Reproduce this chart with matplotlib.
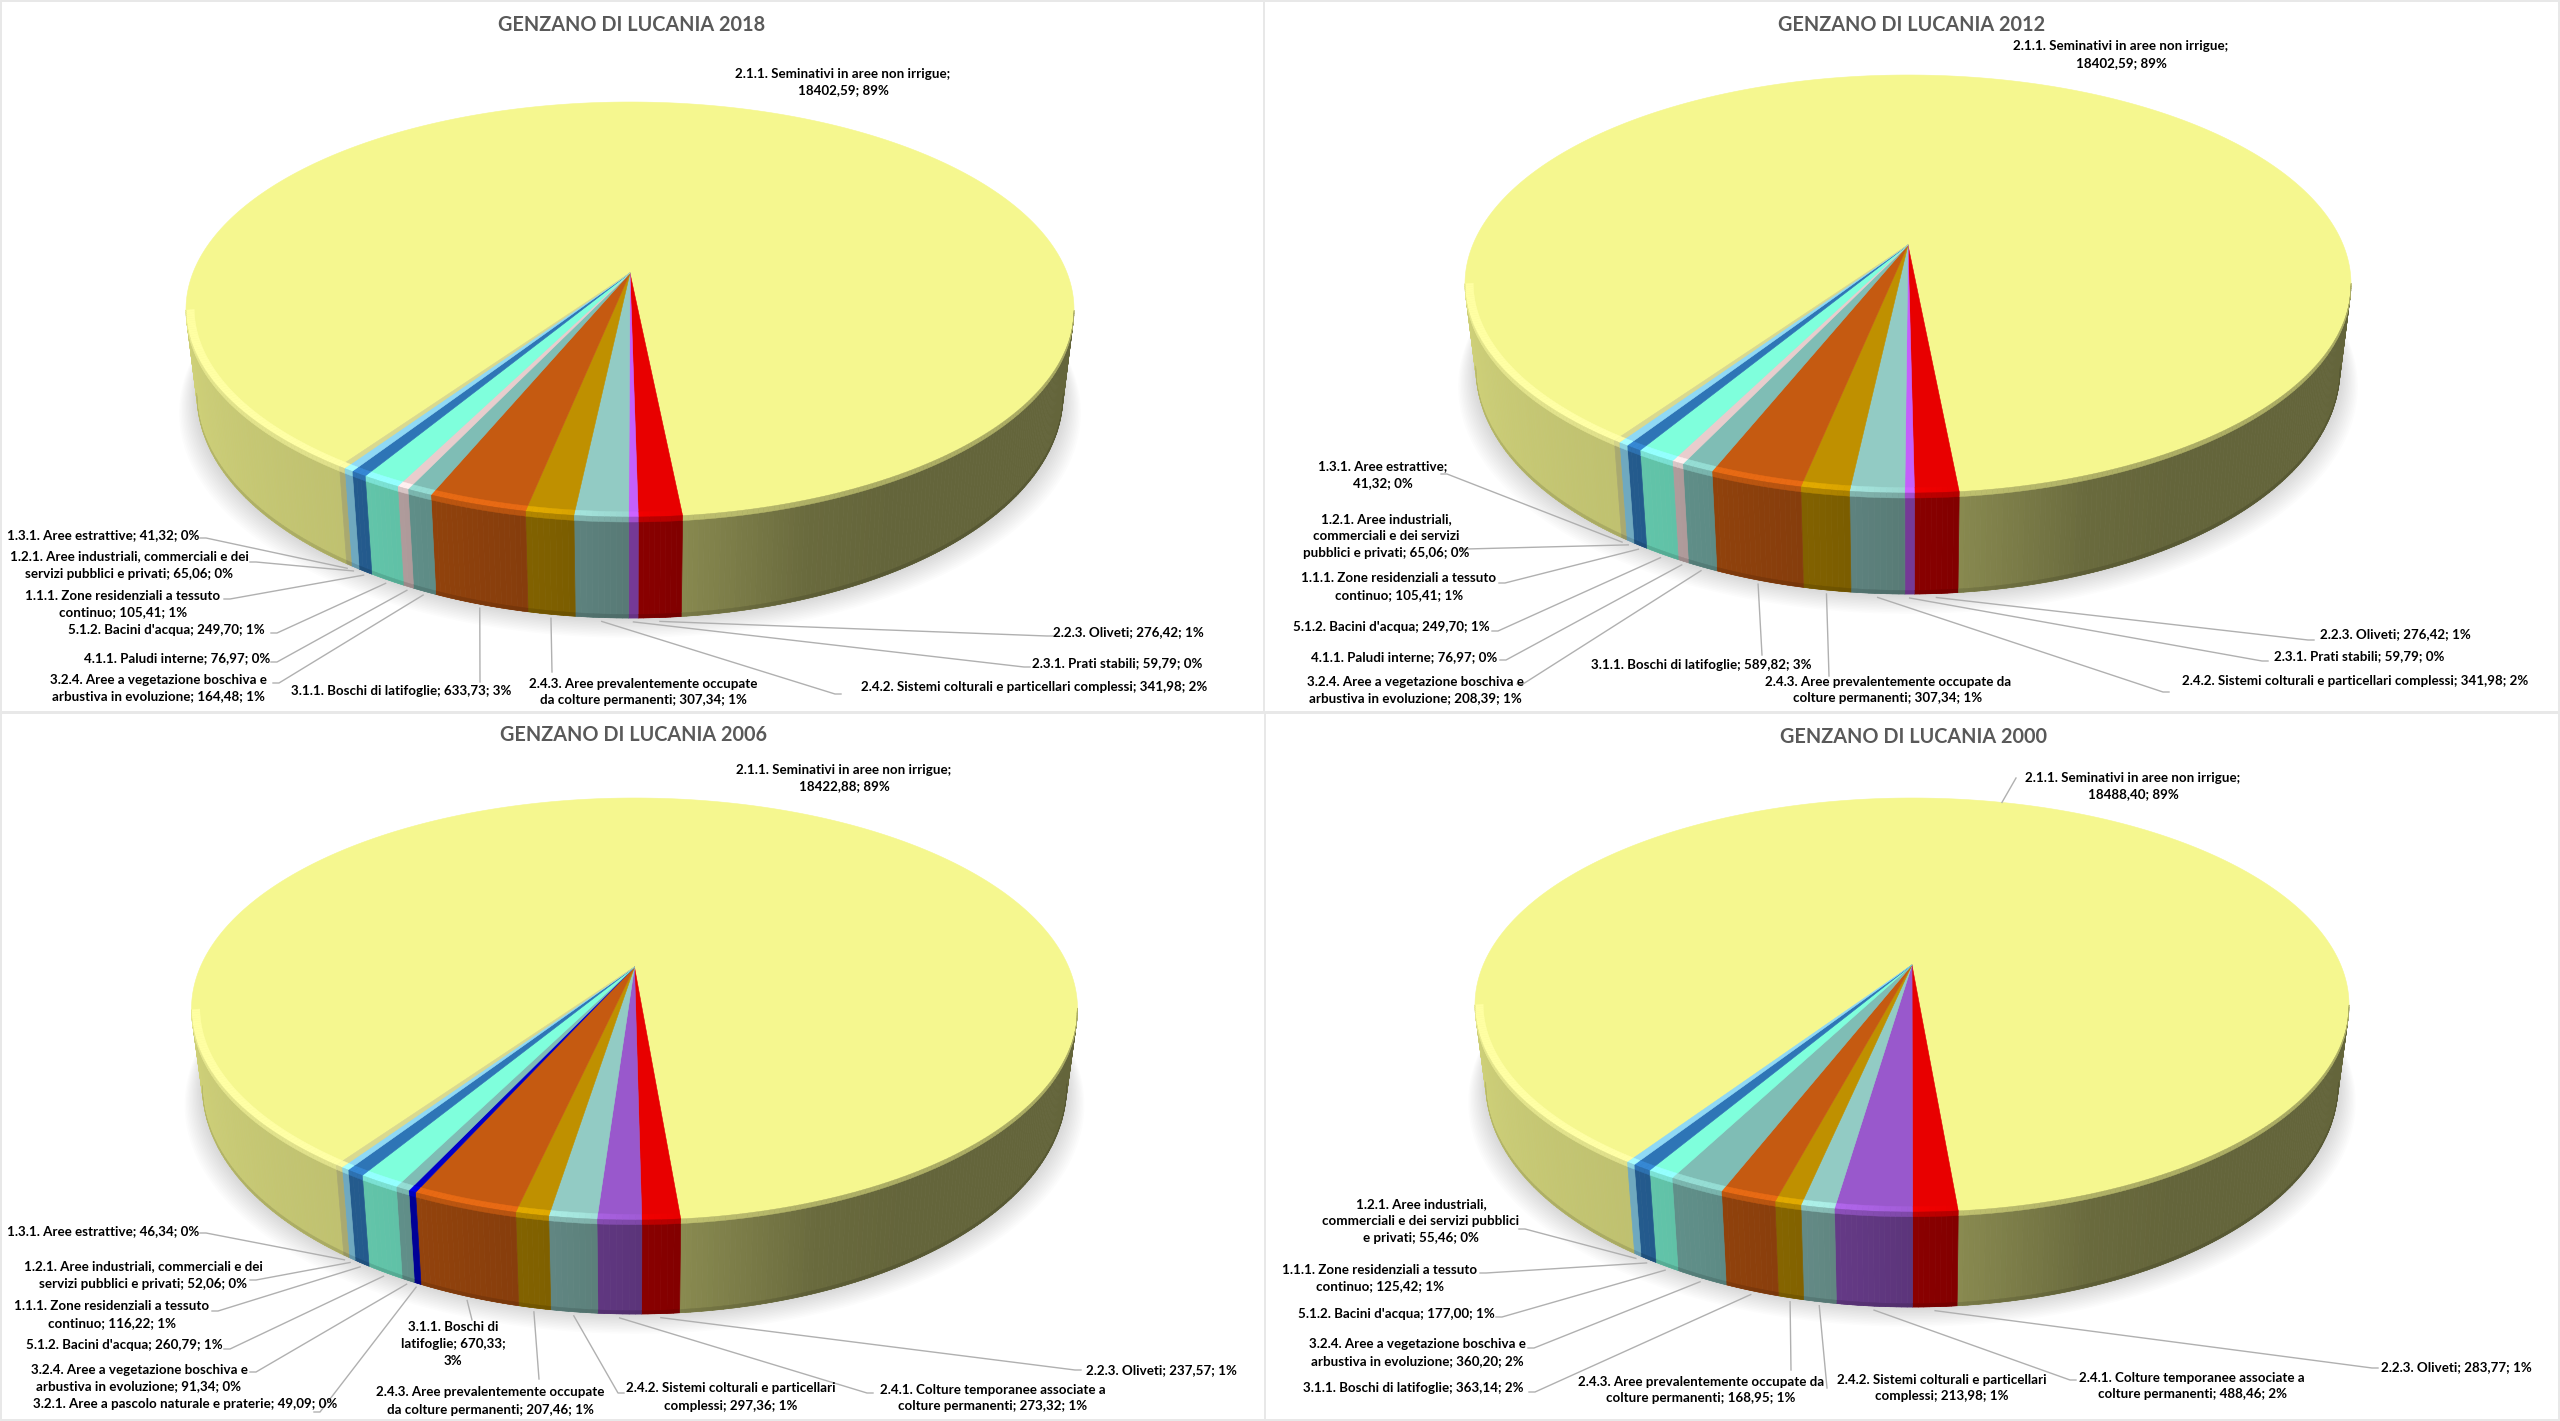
import numpy as np
import matplotlib
matplotlib.use("Agg")
import matplotlib.pyplot as plt
from matplotlib.collections import PolyCollection
from matplotlib.colors import to_rgb
from matplotlib.patches import Rectangle

plt.rcParams['font.family'] = ['Lato', 'DejaVu Sans']

# ---------- data (Excel order: clockwise from the first slice) ----------
titles = ["GENZANO DI LUCANIA 2018", "GENZANO DI LUCANIA 2012",
          "GENZANO DI LUCANIA 2006", "GENZANO DI LUCANIA 2000"]

codes_2018 = ["2.1.1", "2.2.3", "2.3.1", "2.4.2", "2.4.3", "3.1.1", "3.2.4", "4.1.1", "5.1.2", "1.1.1", "1.2.1", "1.3.1"]
values_2018 = [18402.59, 276.42, 59.79, 341.98, 307.34, 633.73, 164.48, 76.97, 249.70, 105.41, 65.06, 41.32]
text_2018 = ["2.1.1. Seminativi in aree non irrigue;\n18402,59; 89%", "2.2.3. Oliveti; 276,42; 1%",
             "2.3.1. Prati stabili; 59,79; 0%", "2.4.2. Sistemi colturali e particellari complessi; 341,98; 2%",
             "2.4.3. Aree prevalentemente occupate\nda colture permanenti; 307,34; 1%", "3.1.1. Boschi di latifoglie; 633,73; 3%",
             "3.2.4. Aree a vegetazione boschiva e\narbustiva in evoluzione; 164,48; 1%", "4.1.1. Paludi interne; 76,97; 0%",
             "5.1.2. Bacini d'acqua; 249,70; 1%", "1.1.1. Zone residenziali a tessuto\ncontinuo; 105,41; 1%",
             "1.2.1. Aree industriali, commerciali e dei\nservizi pubblici e privati; 65,06; 0%", "1.3.1. Aree estrattive; 41,32; 0%"]

codes_2012 = codes_2018
values_2012 = [18402.59, 276.42, 59.79, 341.98, 307.34, 589.82, 208.39, 76.97, 249.70, 105.41, 65.06, 41.32]
text_2012 = ["2.1.1. Seminativi in aree non irrigue;\n18402,59; 89%", "2.2.3. Oliveti; 276,42; 1%",
             "2.3.1. Prati stabili; 59,79; 0%", "2.4.2. Sistemi colturali e particellari complessi; 341,98; 2%",
             "2.4.3. Aree prevalentemente occupate da\ncolture permanenti; 307,34; 1%", "3.1.1. Boschi di latifoglie; 589,82; 3%",
             "3.2.4. Aree a vegetazione boschiva e\narbustiva in evoluzione; 208,39; 1%", "4.1.1. Paludi interne; 76,97; 0%",
             "5.1.2. Bacini d'acqua; 249,70; 1%", "1.1.1. Zone residenziali a tessuto\ncontinuo; 105,41; 1%",
             "1.2.1. Aree industriali,\ncommerciali e dei servizi\npubblici e privati; 65,06; 0%", "1.3.1. Aree estrattive;\n41,32; 0%"]

codes_2006 = ["2.1.1", "2.2.3", "2.4.1", "2.4.2", "2.4.3", "3.1.1", "3.2.1", "3.2.4", "5.1.2", "1.1.1", "1.2.1", "1.3.1"]
values_2006 = [18422.88, 237.57, 273.32, 297.36, 207.46, 670.33, 49.09, 91.34, 260.79, 116.22, 52.06, 46.34]
text_2006 = ["2.1.1. Seminativi in aree non irrigue;\n18422,88; 89%", "2.2.3. Oliveti; 237,57; 1%",
             "2.4.1. Colture temporanee associate a\ncolture permanenti; 273,32; 1%", "2.4.2. Sistemi colturali e particellari\ncomplessi; 297,36; 1%",
             "2.4.3. Aree prevalentemente occupate\nda colture permanenti; 207,46; 1%", "3.1.1. Boschi di\nlatifoglie; 670,33;\n3%",
             "3.2.1. Aree a pascolo naturale e praterie; 49,09; 0%", "3.2.4. Aree a vegetazione boschiva e\narbustiva in evoluzione; 91,34; 0%",
             "5.1.2. Bacini d'acqua; 260,79; 1%", "1.1.1. Zone residenziali a tessuto\ncontinuo; 116,22; 1%",
             "1.2.1. Aree industriali, commerciali e dei\nservizi pubblici e privati; 52,06; 0%", "1.3.1. Aree estrattive; 46,34; 0%"]

codes_2000 = ["2.1.1", "2.2.3", "2.4.1", "2.4.2", "2.4.3", "3.1.1", "3.2.4", "5.1.2", "1.1.1", "1.2.1"]
values_2000 = [18488.40, 283.77, 488.46, 213.98, 168.95, 363.14, 360.20, 177.00, 125.42, 55.46]
text_2000 = ["2.1.1. Seminativi in aree non irrigue;\n18488,40; 89%", "2.2.3. Oliveti; 283,77; 1%",
             "2.4.1. Colture temporanee associate a\ncolture permanenti; 488,46; 2%", "2.4.2. Sistemi colturali e particellari\ncomplessi; 213,98; 1%",
             "2.4.3. Aree prevalentemente occupate da\ncolture permanenti; 168,95; 1%", "3.1.1. Boschi di latifoglie; 363,14; 2%",
             "3.2.4. Aree a vegetazione boschiva e\narbustiva in evoluzione; 360,20; 2%", "5.1.2. Bacini d'acqua; 177,00; 1%",
             "1.1.1. Zone residenziali a tessuto\ncontinuo; 125,42; 1%", "1.2.1. Aree industriali,\ncommerciali e dei servizi pubblici\ne privati; 55,46; 0%"]

# ---------- styles ----------
colors = {"2.1.1": "#F5F78F", "2.2.3": "#E80000", "2.3.1": "#C45FFB", "2.4.1": "#9958CC", "2.4.2": "#92CBC4",
          "2.4.3": "#BF9000", "3.1.1": "#C55A11", "3.2.1": "#0000C8", "3.2.4": "#7FBDB5", "4.1.1": "#E8CDCD",
          "5.1.2": "#7FFFDC", "1.1.1": "#2E75B6", "1.2.1": "#8FD9F5", "1.3.1": "#D9D98F"}

# ---------- layout in image pixels ----------
panels = [(1, 1, 1264, 712), (1264, 1, 2559, 712), (1, 712.5, 1265, 1420), (1265, 712.5, 2559, 1420)]
# cx, apex y, back extent, front extent, half width, wall height, first-slice offset (deg right of front)
geometry = [(630, 273, 171, 244, 444, 101, 5.7), (1908, 245, 170, 248, 443, 101, 5.5),
            (634.5, 967, 169, 253, 443, 94, 4.9), (1912, 965, 167, 247, 437, 95, 5.0)]
title_pos = [(632, 25), (1912, 25), (633, 735), (1914, 737)]

label_xy = [
    {"2.1.1": (843, 82), "2.2.3": (1128, 632), "2.3.1": (1117, 663), "2.4.2": (1034, 687), "2.4.3": (643, 692),
     "3.1.1": (401, 691), "3.2.4": (158, 688), "4.1.1": (177, 658), "5.1.2": (166, 630), "1.1.1": (123, 604),
     "1.2.1": (129, 565), "1.3.1": (103, 535)},
    {"2.1.1": (2121, 55), "2.2.3": (2395, 634), "2.3.1": (2359, 656), "2.4.2": (2355, 681), "2.4.3": (1888, 690),
     "3.1.1": (1701, 665), "3.2.4": (1415, 690), "4.1.1": (1404, 657), "5.1.2": (1391, 627), "1.1.1": (1399, 587),
     "1.2.1": (1386, 536), "1.3.1": (1383, 475)},
    {"2.1.1": (844, 778), "2.2.3": (1161, 1370), "2.4.1": (993, 1398), "2.4.2": (731, 1397), "2.4.3": (490, 1401),
     "3.1.1": (453, 1344), "3.2.1": (185, 1404), "3.2.4": (139, 1378), "5.1.2": (124, 1345), "1.1.1": (112, 1315),
     "1.2.1": (143, 1275), "1.3.1": (103, 1231)},
    {"2.1.1": (2133, 786), "2.2.3": (2456, 1367), "2.4.1": (2192, 1386), "2.4.2": (1942, 1388), "2.4.3": (1701, 1390),
     "3.1.1": (1413, 1388), "3.2.4": (1417, 1353), "5.1.2": (1396, 1314), "1.1.1": (1380, 1278), "1.2.1": (1421, 1221)},
]
leader_xy = [
    {"2.2.3": (1053, 636), "2.3.1": (1030, 667), "2.4.2": (841, 694), "2.4.3": (552, 672), "3.1.1": (480, 682),
     "3.2.4": (273, 683), "4.1.1": (271, 662), "5.1.2": (271, 633), "1.1.1": (224, 599), "1.2.1": (250, 562), "1.3.1": (200, 538)},
    {"2.2.3": (2314, 640), "2.3.1": (2268, 661), "2.4.2": (2169, 692), "2.4.3": (1829, 676), "3.1.1": (1762, 655),
     "3.2.4": (1517, 684), "4.1.1": (1500, 660), "5.1.2": (1492, 631), "1.1.1": (1499, 583), "1.2.1": (1460, 549), "1.3.1": (1441, 474)},
    {"2.2.3": (1081, 1370), "2.4.1": (873, 1393), "2.4.2": (624, 1393), "2.4.3": (539, 1379), "3.1.1": (472, 1320),
     "3.2.1": (314, 1412), "3.2.4": (250, 1372), "5.1.2": (224, 1349), "1.1.1": (212, 1311), "1.2.1": (250, 1280), "1.3.1": (200, 1233)},
    {"2.1.1": (2016, 778), "2.2.3": (2378, 1368), "2.4.1": (2076, 1380), "2.4.2": (1827, 1388), "2.4.3": (1791, 1370),
     "3.1.1": (1529, 1392), "3.2.4": (1528, 1348), "5.1.2": (1496, 1317), "1.1.1": (1480, 1273), "1.2.1": (1519, 1229)},
]

FS_LABEL = 9.65
FS_TITLE = 14.3
LINE_SPACING = 1.5
BOTTOM_SCALE = 0.975
STUB = 6


def wall_shade(phi):
    return np.interp(phi, [-180, -90, -34, -25, -10, 0, 5, 12, 20, 30, 180],
                     [.87, .87, .78, .75, .67, .60, .56, .50, .43, .41, .41])


def rim_gain(phi):
    return np.interp(phi, [-180, -100, -10, 0, 5, 180], [.10, .12, .18, .05, 0, 0])


def make_projection(cx, cy, back, front, half, depth):
    k = (front - back) / (front + back)
    b = 2 * back * front / (front + back)
    a = half * np.sqrt(1 - k * k)
    d = depth * (1 - k)

    def project(phi_deg, r=1.0, z=0.0):
        """phi: degrees from the front of the pie, positive towards the right."""
        p = np.radians(phi_deg)
        X, Y = r * np.sin(p), -r * np.cos(p)
        w = 1 + k * Y
        u = a * X / w * (1 - (1 - BOTTOM_SCALE) * z)
        v = -b * Y / w + z * d / w
        return cx + u, cy + v
    return project, k


def poly(xa, ya, xb, yb):
    return np.column_stack([np.r_[xa, xb[::-1]], np.r_[ya, yb[::-1]]])


fig = plt.figure(figsize=(25.6, 14.21), dpi=100, facecolor="white")
ax = fig.add_axes([0, 0, 1, 1])
ax.set_xlim(0, 2560)
ax.set_ylim(1421, 0)
ax.axis("off")

for x0, y0, x1, y1 in panels:
    ax.add_patch(Rectangle((x0, y0), x1 - x0, y1 - y0, fc="white", ec="#E8E8E8", lw=1.4, zorder=0))

all_codes = [codes_2018, codes_2012, codes_2006, codes_2000]
all_values = [values_2018, values_2012, values_2006, values_2000]
all_text = [text_2018, text_2012, text_2006, text_2000]

for i in range(4):
    codes, values, texts = all_codes[i], np.array(all_values[i], float), all_text[i]
    cx, cy, back, front, half, depth, first = geometry[i]
    project, k = make_projection(cx, cy, back, front, half, depth)

    # slice limits in degrees from the front; the first slice runs round the back,
    # the others run clockwise across the front (decreasing angle)
    span = values / values.sum() * 360
    limits = [(first, first + span[0])]
    hi = first
    for s in span[1:]:
        limits.append((hi, hi - s))
        hi -= s

    # shadow
    th = np.linspace(-180, 180, 361)
    xs, ys = project(th, 1.0, 1.0)
    for n in range(14):
        sc = 1 + n * 0.0032
        pts = np.column_stack([cx + (xs - cx) * sc, ys + n * 1.25 + (ys - cy) * n * 0.0008])
        ax.add_patch(plt.Polygon(pts, closed=True, fc="black", ec="none", alpha=0.012, zorder=1))

    wall_polys, wall_cols = [], []
    top_polys, top_cols = [], []
    rim_polys, rim_cols = [], []
    for code, (a0, a1) in zip(codes, limits):
        base = np.array(to_rgb(colors[code]))
        n = max(2, int(abs(a1 - a0) / 0.6) + 1)
        ph = np.linspace(a0, a1, n)
        px, py = project(ph)
        ax0, ay0 = project(np.array([0.0]), 0.0)
        top_polys.append(np.column_stack([np.r_[ax0, px], np.r_[ay0, py]]))
        top_cols.append(base)
        for p0, p1 in zip(ph[:-1], ph[1:]):
            pm = ((0.5 * (p0 + p1) + 180) % 360) - 180
            if np.cos(np.radians(pm)) <= k:
                continue
            seg = np.array([p0, p1])
            wall = base * wall_shade(pm)
            xa, ya = project(seg, 1.0, 0.0)
            xb, yb = project(seg, 1.0, 1.0)
            wall_polys.append(poly(xa, ya, xb, yb))
            wall_cols.append(wall)
            lit = np.clip(base * (1 + rim_gain(pm)), 0, 1)
            # lit strip on the top surface
            xa2, ya2 = project(seg, 0.982, 0.0)
            rim_polys.append(poly(xa2, ya2, xa, ya))
            rim_cols.append(lit)
            # soft step from the top to the wall
            xc, yc = project(seg, 1.0, 0.05)
            rim_polys.append(poly(xa, ya, xc, yc))
            rim_cols.append(0.5 * lit + 0.5 * wall)
            # darker foot of the wall
            xd, yd = project(seg, 1.0, 0.965)
            rim_polys.append(poly(xd, yd, xb, yb))
            rim_cols.append(wall * 0.88)
    ax.add_collection(PolyCollection(wall_polys, facecolors=wall_cols, edgecolors=wall_cols, linewidths=0.5, zorder=2))
    ax.add_collection(PolyCollection(top_polys, facecolors=top_cols, edgecolors=top_cols, linewidths=0.4, zorder=3))
    ax.add_collection(PolyCollection(rim_polys, facecolors=rim_cols, edgecolors=rim_cols, linewidths=0.3, zorder=4))

    # labels and leader lines
    for code, txt, (a0, a1) in zip(codes, texts, limits):
        lx, ly = label_xy[i][code]
        ax.text(lx, ly, txt, ha="center", va="center", fontsize=FS_LABEL, fontweight="bold",
                color="black", linespacing=LINE_SPACING, zorder=6)
        if code in leader_xy[i]:
            mid = 0.5 * (a0 + a1)
            if code == "2.1.1":
                ex, ey = project(np.array([mid]), 1.0, 0.0)
            else:
                ex, ey = project(np.array([mid]), 1.006, 1.0)
                ey = ey + 2
            sx, sy = leader_xy[i][code]
            dx = ex[0] - sx
            stub = 0 if abs(dx) < 40 else np.sign(dx) * STUB
            ax.plot([sx, sx + stub, ex[0]], [sy, sy, ey[0]], color="#B0B0B0", lw=1.0, zorder=5)

    tx, ty = title_pos[i]
    ax.text(tx, ty, titles[i], ha="center", va="center", fontsize=FS_TITLE, fontweight="bold", color="#595959", zorder=6)

fig.savefig("out.png", dpi=100)
